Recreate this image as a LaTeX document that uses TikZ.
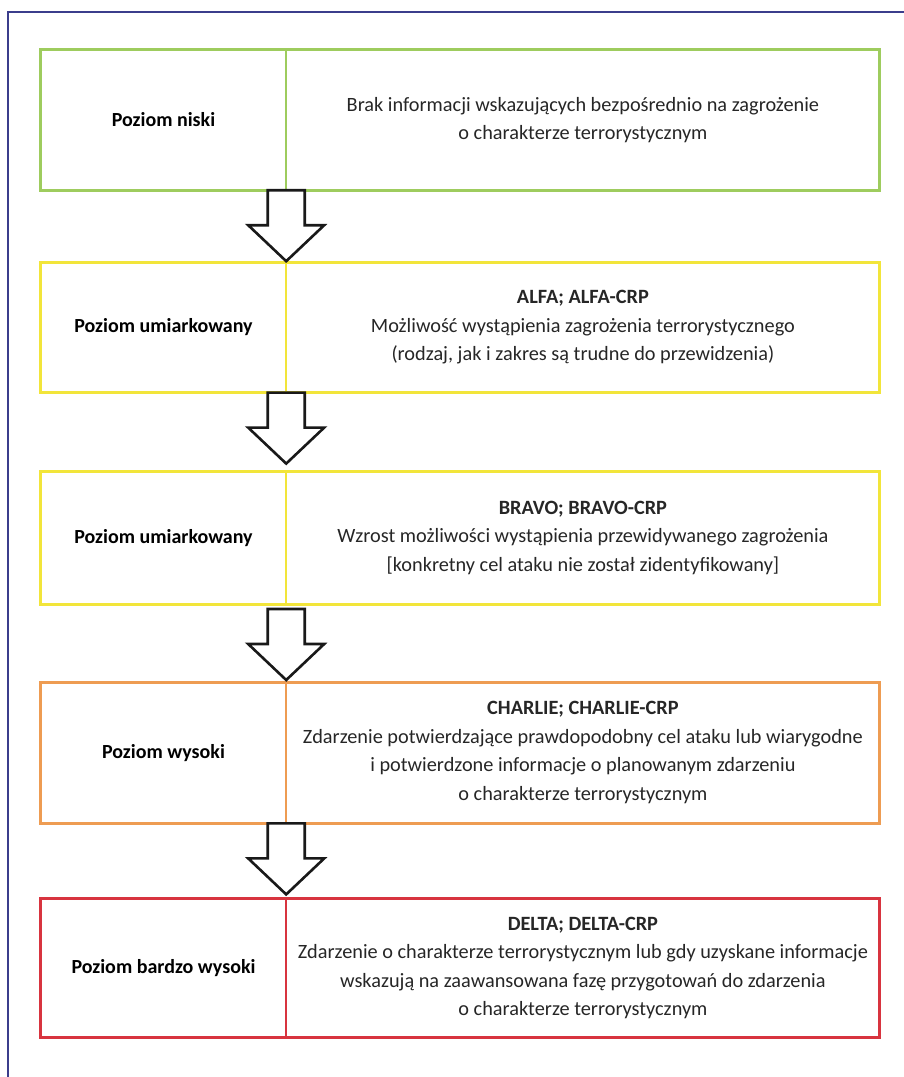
\documentclass[tikz,border=0pt]{standalone}
\usepackage{fontspec}
\setmainfont{Carlito}
\usetikzlibrary{positioning,calc}

\definecolor{ramkakolor}{HTML}{3B3D8C}
\definecolor{zielony}{HTML}{9ECC5E}
\definecolor{zolty}{HTML}{F2E53A}
\definecolor{pomarancz}{HTML}{EE9C52}
\definecolor{czerwony}{HTML}{D8343F}

\tikzset{
  poziom/.style={minimum width=245pt, minimum height=#1, inner sep=0pt,
    align=center, font=\fontsize{20}{28.5}\selectfont\bfseries},
  opis/.style={minimum width=593pt, minimum height=#1, inner sep=0pt,
    align=center, font=\fontsize{20.3}{28.5}\selectfont, text=black!85},
  obrys/.style={draw=#1, line width=3pt},
  podzial/.style={draw=#1, line width=1.6pt},
  blok/.style={draw=black!90, line width=2.6pt, fill=white, line join=miter}
}

% strzalka blokowa: z wezla #1 do wezla #2, odstepy #3 (gora) i #4 (dol)
\newcommand{\blokstrzalka}[4]{%
  \draw[blok] let \p1=(#1.south east), \p2=(#2.north east) in
    (\x1-18.5pt,\y1-#3pt) -- (\x1-18.5pt,\y2+#4pt+36pt) -- (\x1-38pt,\y2+#4pt+36pt)
    -- (\x1,\y2+#4pt) -- (\x1+38pt,\y2+#4pt+36pt) -- (\x1+18.5pt,\y2+#4pt+36pt)
    -- (\x1+18.5pt,\y1-#3pt) -- cycle;}

\begin{document}
\begin{tikzpicture}[x=1pt, y=-1pt]
  \useasboundingbox (0,0) rectangle (904,1077);
  \draw[ramkakolor, line width=1.3pt] (8,1077) -- (8,12) -- (904,12);

  % poziom niski
  \node[poziom=140pt] (p1) at (163.5,120) {Poziom niski};
  \node[opis=140pt, right=0pt of p1] (o1) {Brak informacji wskazujących bezpośrednio na zagrożenie\\o charakterze terrorystycznym};

  % ALFA
  \node[poziom=130pt, below=72pt of p1] (p2) {Poziom umiarkowany};
  \node[opis=130pt, right=0pt of p2] (o2) {\textbf{ALFA; ALFA-CRP}\\Możliwość wystąpienia zagrożenia terrorystycznego\\(rodzaj, jak i zakres są trudne do przewidzenia)};

  % BRAVO
  \node[poziom=132pt, below=79pt of p2] (p3) {Poziom umiarkowany};
  \node[opis=132pt, right=0pt of p3] (o3) {\textbf{BRAVO; BRAVO-CRP}\\Wzrost możliwości wystąpienia przewidywanego zagrożenia\\{[}konkretny cel ataku nie został zidentyfikowany{]}};

  % CHARLIE
  \node[poziom=141pt, below=78pt of p3] (p4) {Poziom wysoki};
  \node[opis=141pt, right=0pt of p4] (o4) {\textbf{CHARLIE; CHARLIE-CRP}\\Zdarzenie potwierdzające prawdopodobny cel ataku lub wiarygodne\\i potwierdzone informacje o planowanym zdarzeniu\\o charakterze terrorystycznym};

  % DELTA
  \node[poziom=139pt, below=75pt of p4] (p5) {Poziom bardzo wysoki};
  \node[opis=139pt, right=0pt of p5] (o5) {\textbf{DELTA; DELTA-CRP}\\Zdarzenie o charakterze terrorystycznym lub gdy uzyskane informacje\\wskazują na zaawansowana fazę przygotowań do zdarzenia\\o charakterze terrorystycznym};

  \draw[obrys=zielony] (p1.north west) rectangle (o1.south east);
  \draw[podzial=zielony] (p1.north east) -- (p1.south east);
  \draw[obrys=zolty] (p2.north west) rectangle (o2.south east);
  \draw[podzial=zolty] (p2.north east) -- (p2.south east);
  \draw[obrys=zolty] (p3.north west) rectangle (o3.south east);
  \draw[podzial=zolty] (p3.north east) -- (p3.south east);
  \draw[obrys=pomarancz] (p4.north west) rectangle (o4.south east);
  \draw[podzial=pomarancz] (p4.north east) -- (p4.south east);
  \draw[obrys=czerwony] (p5.north west) rectangle (o5.south east);
  \draw[podzial=czerwony] (p5.north east) -- (p5.south east);

  \blokstrzalka{p1}{p2}{0}{1}
  \blokstrzalka{p2}{p3}{0}{8}
  \blokstrzalka{p3}{p4}{5}{2}
  \blokstrzalka{p4}{p5}{0}{4}
\end{tikzpicture}
\end{document}
